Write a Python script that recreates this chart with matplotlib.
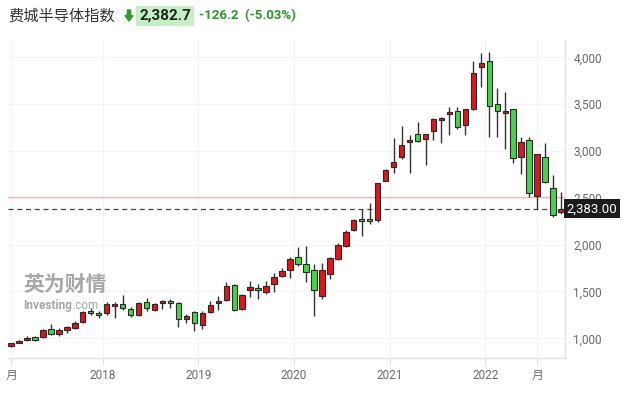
import matplotlib
matplotlib.use('Agg')

import matplotlib.pyplot as plt
import matplotlib.transforms as mtransforms
from matplotlib.patches import FancyArrow
import numpy as np

plt.rcParams['font.family'] = ['Roboto', 'Noto Sans CJK SC', 'DejaVu Sans']

# monthly candles, Jan 2017 .. Oct 2022
opens = [914, 950, 982, 1010, 1010, 1095, 1042, 1088, 1110, 1177, 1291, 1270,
         1266, 1341, 1366, 1316, 1245, 1391, 1298, 1373, 1394, 1377, 1209, 1277,
         1140, 1277, 1373, 1412, 1565, 1313, 1519, 1533, 1490, 1576, 1668, 1729,
         1872, 1790, 1730, 1455, 1683, 1843, 1989, 2153, 2270, 2270, 2260, 2683,
         2825, 2939, 3092, 3178, 3124, 3210, 3327, 3391, 3423, 3274, 3452, 3893,
         3964, 3498, 3402, 3445, 2932, 3117, 2516, 2932, 2601, 2345]
highs = [955, 980, 1020, 1025, 1099, 1149, 1106, 1131, 1181, 1295, 1327, 1288,
         1390, 1384, 1462, 1337, 1387, 1434, 1380, 1409, 1416, 1384, 1263, 1295,
         1295, 1398, 1448, 1597, 1583, 1469, 1615, 1583, 1615, 1693, 1754, 1864,
         1975, 1986, 1790, 1801, 1865, 2021, 2157, 2270, 2381, 2441, 2660, 2810,
         3142, 3267, 3171, 3309, 3185, 3349, 3359, 3470, 3473, 3450, 3964, 4043,
         4053, 3669, 3626, 3450, 3153, 3153, 2970, 3082, 2744, 2559]
lows = [905, 945, 975, 970, 1000, 1031, 1021, 1060, 1095, 1163, 1252, 1220,
        1252, 1213, 1302, 1224, 1238, 1295, 1288, 1313, 1320, 1124, 1160, 1078,
        1095, 1266, 1302, 1398, 1288, 1302, 1444, 1416, 1476, 1494, 1658, 1647,
        1775, 1605, 1238, 1416, 1630, 1836, 1971, 2146, 2093, 2221, 2238, 2675,
        2761, 2918, 2761, 3100, 2847, 3121, 3082, 3171, 3240, 3167, 3440, 3680,
        3146, 3153, 3025, 2875, 2751, 2512, 2384, 2660, 2299, 2327]
closes = [946, 971, 1007, 985, 1088, 1042, 1085, 1117, 1167, 1277, 1266, 1245,
          1369, 1366, 1327, 1245, 1377, 1320, 1366, 1394, 1373, 1202, 1234, 1160,
          1268, 1352, 1398, 1555, 1298, 1458, 1544, 1512, 1555, 1651, 1718, 1843,
          1794, 1705, 1512, 1730, 1854, 1993, 2135, 2260, 2249, 2249, 2655, 2794,
          2882, 3060, 3117, 3103, 3178, 3338, 3352, 3416, 3253, 3445, 3829, 3936,
          3477, 3423, 3427, 2922, 3092, 2555, 2964, 2672, 2317, 2383]

prev_close = 2508.9
last_price = 2383.0

xtick_pos = [0, 11.5, 23.5, 35.5, 47.5, 59.5, 66]
xtick_labels = ['月', '2018', '2019', '2020', '2021', '2022', '月']
yticks = [1000, 1500, 2000, 2500, 3000, 3500, 4000]

up_color = '#d7181c'
down_color = '#46d446'

fig = plt.figure(figsize=(6.25, 3.97), dpi=100)
ax = fig.add_axes([8/625, 39/397, 557/625, 318/397])

o = np.array(opens, dtype=float)
h = np.array(highs, dtype=float)
l = np.array(lows, dtype=float)
c = np.array(closes, dtype=float)
x = np.arange(len(o))
cols = [up_color if cc >= oo else down_color for oo, cc in zip(o, c)]

ax.vlines(x, l, h, color='#333333', linewidth=1.0, zorder=2)
ax.bar(x, np.abs(c - o), bottom=np.minimum(o, c), width=0.68, color=cols,
       edgecolor='#2a2a2a', linewidth=0.8, zorder=3)

ax.axhline(prev_close, color='#f2b8b8', linewidth=1.0, zorder=1)
ax.axhline(last_price, color='#444444', linewidth=0.9, dashes=(4, 3), zorder=1)

ax.set_xlim(-0.38, 69.5)
ax.set_ylim(790, 4185)

ax.set_xticks(xtick_pos)
ax.set_xticklabels(xtick_labels)
ax.set_yticks(yticks)
ax.set_yticklabels(['{:,}'.format(v) for v in yticks])
ax.yaxis.tick_right()
ax.tick_params(axis='y', length=0, pad=6, labelsize=8.5, labelcolor='#6b6b6b')
ax.tick_params(axis='x', length=5, color='#e0e0e0', pad=3, labelsize=8.5, labelcolor='#6b6b6b')
ax.grid(True, color='#f4f4f4', linewidth=0.8, zorder=0)
ax.set_axisbelow(True)

for s in ['top', 'left']:
    ax.spines[s].set_visible(False)
for s in ['bottom', 'right']:
    ax.spines[s].set_color('#e2e2e2')
    ax.spines[s].set_linewidth(1.0)

# current price tag on the right axis
trans = mtransforms.blended_transform_factory(ax.transAxes, ax.transData)
ax.text(1.003, last_price, '2,383.00', transform=trans, ha='left', va='center',
        fontsize=9.5, color='white', clip_on=False, zorder=10,
        bbox=dict(boxstyle='square,pad=0.22', facecolor='#1c1c1c', edgecolor='none'))

# watermark
ax.text(0.027, 0.212, '英为财情', transform=ax.transAxes, fontsize=15, fontweight='bold',
        color='#8a8a8a', alpha=0.75, family=['Noto Sans CJK SC', 'DejaVu Sans'], zorder=1)
wm = ax.text(0.028, 0.155, 'Investing', transform=ax.transAxes, fontsize=8.5,
             fontweight='bold', color='#8a8a8a', alpha=0.75, zorder=1)
ax.annotate('.com', xy=(1, 0), xycoords=wm, va='bottom', ha='left', fontsize=8.5,
            color='#8a8a8a', alpha=0.75, zorder=1)

# header
fig.text(8/625, 1 - 16/397, '费城半导体指数', fontsize=11, color='#333333', va='center',
         family=['Noto Sans CJK SC', 'DejaVu Sans'])
fig.add_artist(FancyArrow(129, 387, 0, -11, width=3.2, head_width=8, head_length=5.5,
                          length_includes_head=True, color='#2f9a2f',
                          transform=mtransforms.IdentityTransform()))
fig.text(139/625, 1 - 16/397, '2,382.7', fontsize=11, fontweight='bold', color='#222222',
         va='center', bbox=dict(boxstyle='square,pad=0.2', facecolor='#c5efc5', edgecolor='none'))
fig.text(199/625, 1 - 16/397, '-126.2  (-5.03%)', fontsize=9.5, fontweight='bold',
         color='#2a9a2a', va='center')

plt.savefig('out.png', dpi=100)
plt.close()
